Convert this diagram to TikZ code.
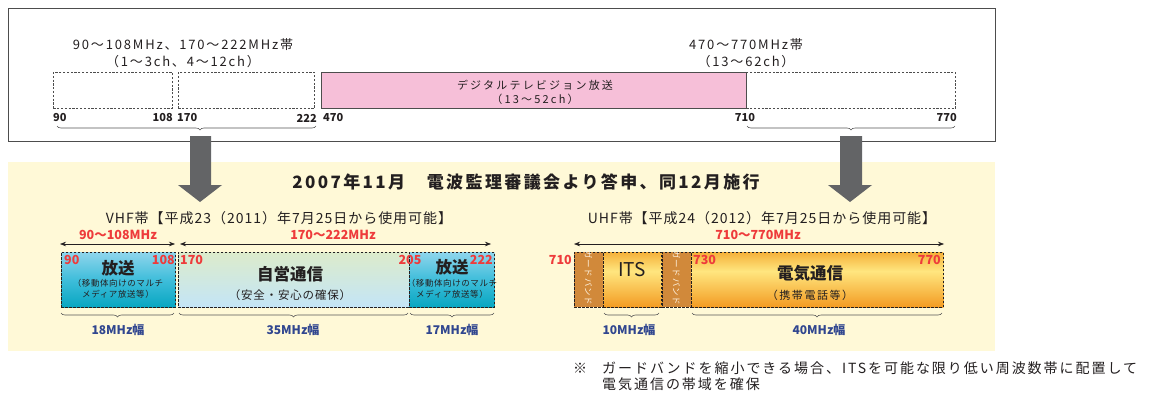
\documentclass[tikz,border=0pt]{standalone}
\usepackage{fontspec}
\setmainfont{Noto Sans CJK JP}
\newfontfamily\jpsA[LetterSpace=14]{Noto Sans CJK JP}
\newfontfamily\jpsB[LetterSpace=20]{Noto Sans CJK JP}
\newfontfamily\jpsC[LetterSpace=7]{Noto Sans CJK JP}
\usetikzlibrary{decorations.pathreplacing,arrows.meta}
\definecolor{frame}{HTML}{4D4D4D}
\definecolor{txt}{HTML}{231F20}
\definecolor{pinkfill}{HTML}{F6BFD8}
\definecolor{arrowgray}{HTML}{636466}
\definecolor{bgyellow}{HTML}{FFF9D7}
\definecolor{numred}{HTML}{EE3B3B}
\definecolor{wblue}{HTML}{30468F}
\definecolor{cyTop}{HTML}{8ED5EC}
\definecolor{cyMid}{HTML}{3EBDDA}
\definecolor{cyBot}{HTML}{07A6C1}
\definecolor{scTop}{HTML}{DCEBCB}
\definecolor{scBot}{HTML}{C3E5F7}
\definecolor{orTop}{HTML}{F5B13A}
\definecolor{orMid}{HTML}{FFE67F}
\definecolor{orBot}{HTML}{F39B22}
\definecolor{guard}{HTML}{D1893A}
\definecolor{gbtext}{HTML}{FFF3E0}
\definecolor{bracegray}{HTML}{555555}
\pgfdeclareverticalshading{orangeband}{100bp}{color(0bp)=(orBot); color(25bp)=(orBot); color(58bp)=(orMid); color(75bp)=(orTop); color(100bp)=(orTop)}
\tikzset{
  fs/.style={font=\fontsize{#1}{#1}\selectfont},
  plain/.style={inner sep=0, text=txt, align=center},
  hdr/.style={plain, font=\jpsA\fontsize{13}{13}\selectfont},
  topnum/.style={inner sep=0, text=txt, font=\fontsize{11}{11}\selectfont\bfseries},
  rednum/.style={inner sep=0, text=numred, font=\fontsize{12.5}{12.5}\selectfont\bfseries},
  widthlbl/.style={inner sep=0, text=wblue, font=\fontsize{12}{12}\selectfont\bfseries},
  boxtitle/.style={plain, font=\fontsize{16.5}{16.5}\selectfont\bfseries},
  smalltxt/.style={plain, font=\jpsC\fontsize{8.5}{8.5}\selectfont},
  dbox/.style={draw=frame, dashed, dash pattern=on 2.2pt off 1.6pt, line width=0.8pt, anchor=north west, inner sep=0},
  band/.style={draw=txt, dash pattern=on 2.5pt off 1.5pt, line width=0.8pt, anchor=north west, inner sep=0, minimum height=55},
  brc/.style={draw=bracegray, line width=0.6pt, decorate, decoration={brace, mirror, amplitude=4pt}},
  dbl/.style={{Stealth[length=6pt,width=4.5pt]}-{Stealth[length=6pt,width=4.5pt]}, draw=txt, line width=0.6pt},
  bigarrow/.style={fill=arrowgray, draw=none},
  gbt/.style={inner sep=0, rotate=-90, text=gbtext, font=\jpsC\fontsize{8.5}{8.5}\selectfont},
}
\begin{document}
\begin{tikzpicture}[x=1pt,y=-1pt]
\useasboundingbox (0,0) rectangle (1150,396);
% ---------- top frame ----------
\node[draw=frame, line width=1.2pt, minimum width=987, minimum height=133, anchor=north west, inner sep=0] (topbox) at (8,8) {};
\node[hdr] (h1) at (183,45) {90〜108MHz、170〜222MHz帯};
\node[hdr] (h2) at (183,62) {（1〜3ch、4〜12ch）};
\node[hdr] (h3) at (746,45) {470〜770MHz帯};
\node[hdr] (h4) at (746,62) {（13〜62ch）};
\node[dbox, minimum width=119, minimum height=36] (d1) at (53,72) {};
\node[dbox, minimum width=136, minimum height=36] (d2) at (178,72) {};
\node[draw=frame, line width=0.8pt, fill=pinkfill, minimum width=425, minimum height=36, anchor=north west, inner sep=0] (pink) at (321,72) {};
\node[dbox, minimum width=209, minimum height=36] (d4) at (746,72) {};
\node[plain, font=\jpsB\fontsize{11}{11}\selectfont] (dtv1) at (535,85) {デジタルテレビジョン放送};
\node[plain, font=\jpsB\fontsize{11}{11}\selectfont] (dtv2) at (535,99) {（13〜52ch）};
\node[topnum, anchor=west] (n90) at (53,118) {90};
\node[topnum, anchor=east] (n108) at (173,118) {108};
\node[topnum, anchor=west] (n170) at (177,118) {170};
\node[topnum, anchor=east] (n222) at (317,118) {222};
\node[topnum, anchor=west] (n470) at (323,118) {470};
\node[topnum] (n710) at (745,118) {710};
\node[topnum, anchor=east] (n770) at (957,118) {770};
\coordinate (b1l) at (57,126);
\coordinate (b1r) at (316,126);
\coordinate (b2l) at (747,126);
\coordinate (b2r) at (955,126);
\draw[brc, decoration={aspect=0.552}] (b1l) -- (b1r);
\draw[brc] (b2l) -- (b2r);
% ---------- yellow panel ----------
\node[fill=bgyellow, minimum width=987, minimum height=189, anchor=north west, inner sep=0] (bg) at (8,162) {};
% big arrows
\fill[bigarrow] (190,136) -- (211,136) -- (211,185) -- (222,185) -- (200,202) -- (178,185) -- (190,185) -- cycle;
\fill[bigarrow] (840,136) -- (862,136) -- (862,185) -- (872,185) -- (850,202) -- (828,185) -- (840,185) -- cycle;
\node[plain, font=\jpsA\fontsize{17}{17}\selectfont\bfseries] (title) at (526,182) {2007年11月　電波監理審議会より答申、同12月施行};
\node[plain, font=\jpsC\fontsize{14}{14}\selectfont] (vhf) at (279,218) {VHF帯【平成23（2011）年7月25日から使用可能】};
\node[plain, font=\jpsC\fontsize{14}{14}\selectfont] (uhf) at (762,218) {UHF帯【平成24（2012）年7月25日から使用可能】};
% VHF double arrows
\coordinate (va1l) at (60,244); \coordinate (va1r) at (175,244);
\coordinate (va2l) at (180,244); \coordinate (va2r) at (491,244);
\draw[dbl] (va1l) -- (va1r);
\draw[dbl] (va2l) -- (va2r);
\node[rednum] (r1) at (118,235) {90〜108MHz};
\node[rednum] (r2) at (333,235) {170〜222MHz};
% VHF boxes
\node[band, top color=cyTop, bottom color=cyBot, middle color=cyMid, minimum width=114] (hs1) at (61,252) {};
\node[band, top color=scTop, bottom color=scBot, minimum width=231] (jiei) at (178,252) {};
\node[band, top color=cyTop, bottom color=cyBot, middle color=cyMid, minimum width=85] (hs2) at (409,252) {};
\node[rednum, anchor=west] (v90) at (64,260) {90};
\node[rednum, anchor=east] (v108) at (175,260) {108};
\node[rednum, anchor=west] (v170) at (180,260) {170};
\node[rednum] (v205) at (410,260) {205};
\node[rednum, anchor=east] (v222) at (493,260) {222};
\node[boxtitle] (hs1t) at (118,268) {放送};
\node[smalltxt] (hs1s) at (118,289) {（移動体向けのマルチ\\[2pt]メディア放送等）};
\node[boxtitle] (jieit) at (290,274) {自営通信};
\node[plain, font=\jpsC\fontsize{11.5}{11.5}\selectfont] (jieis) at (290,295) {（安全・安心の確保）};
\node[boxtitle] (hs2t) at (452,267) {放送};
\node[smalltxt] (hs2s) at (452,289) {（移動体向けのマルチ\\[2pt]メディア放送等）};
\coordinate (vb1l) at (61,313); \coordinate (vb1r) at (174,313);
\coordinate (vb2l) at (179,313); \coordinate (vb2r) at (408,313);
\coordinate (vb3l) at (410,313); \coordinate (vb3r) at (494,313);
\draw[brc] (vb1l) -- (vb1r);
\draw[brc] (vb2l) -- (vb2r);
\draw[brc] (vb3l) -- (vb3r);
\node[widthlbl] (w18) at (118,330) {18MHz幅};
\node[widthlbl] (w35) at (293,330) {35MHz幅};
\node[widthlbl] (w17) at (452,330) {17MHz幅};
% UHF
\coordinate (ual) at (574,244); \coordinate (uar) at (944,244);
\draw[dbl] (ual) -- (uar);
\node[rednum] (r3) at (758,235) {710〜770MHz};
\node[band, fill=guard, minimum width=29] (g1) at (574,252) {};
\node[band, shading=orangeband, minimum width=58] (its) at (603,252) {};
\node[band, fill=guard, minimum width=29] (g2) at (662,252) {};
\node[band, shading=orangeband, minimum width=252] (denki) at (691,252) {};
\node[gbt] (g1t) at (588.5,278) {ガードバンド};
\node[gbt] (g2t) at (676.5,278) {ガードバンド};
\node[rednum, anchor=east] (u710) at (572,260) {710};
\node[rednum, anchor=west] (u730) at (693,260) {730};
\node[rednum, anchor=east] (u770) at (941,260) {770};
\node[plain, fs=19] (itst) at (632,270) {ITS};
\node[boxtitle] (denkit) at (810,273) {電気通信};
\node[plain, font=\jpsA\fontsize{11}{11}\selectfont] (denkis) at (810,295) {（携帯電話等）};
\coordinate (ub1l) at (604,313); \coordinate (ub1r) at (659,313);
\coordinate (ub2l) at (692,313); \coordinate (ub2r) at (942,313);
\draw[brc] (ub1l) -- (ub1r);
\draw[brc] (ub2l) -- (ub2r);
\node[widthlbl] (w10) at (629,330) {10MHz幅};
\node[widthlbl] (w40) at (819,330) {40MHz幅};
% footnote
\node[plain, font=\fontsize{14}{14}\selectfont, anchor=west] (fnmark) at (573,368) {※};
\node[plain, font=\jpsA\fontsize{14}{15}\selectfont, anchor=west, align=left] (fn) at (602,376) {ガードバンドを縮小できる場合、ITSを可能な限り低い周波数帯に配置して\\[1pt]電気通信の帯域を確保};
\end{tikzpicture}
\end{document}
